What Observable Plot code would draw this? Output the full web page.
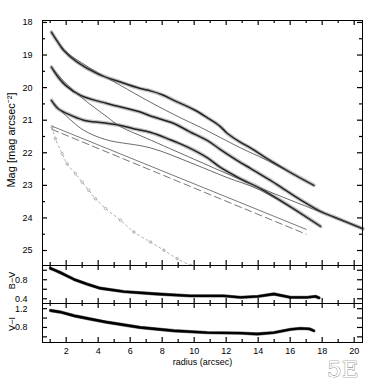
<!DOCTYPE html>
<html><head><meta charset="utf-8">
<script src="https://cdn.jsdelivr.net/npm/d3@7"></script>
<script src="https://cdn.jsdelivr.net/npm/@observablehq/plot@0.6"></script>
<style>
html,body{margin:0;padding:0;background:#fff;}
#wrap{position:relative;width:382px;height:382px;overflow:hidden;background:#fff;}
#wrap svg{position:absolute;left:0;top:0;}
</style></head><body><div id="wrap"></div>
<script>
// ---- data ----
// I band profile (top curve)
const iRadius = [1.08, 1.5, 1.85, 2.69, 3.94, 5.39, 6.64, 7.27, 8.0, 8.73, 10.0, 10.81, 11.6, 12.06, 12.9, 13.52, 14.56, 16.0, 17.48];
const iMag    = [18.30, 18.62, 18.86, 19.22, 19.57, 19.83, 20.03, 20.10, 20.22, 20.39, 20.68, 20.92, 21.18, 21.40, 21.68, 21.85, 22.18, 22.60, 23.00];
// V band profile (middle curve)
const vRadius = [1.08, 1.5, 1.96, 2.9, 4.56, 6.64, 7.27, 8.73, 9.7, 10.81, 11.64, 12.9, 13.52, 14.77, 15.4, 16.5, 17.9, 18.73, 20.54];
const vMag    = [19.37, 19.68, 19.93, 20.24, 20.49, 20.75, 20.87, 21.10, 21.35, 21.62, 21.90, 22.30, 22.48, 22.85, 23.05, 23.40, 23.80, 23.97, 24.33];
// B band profile (third curve)
const bRadius = [1.08, 1.5, 2.06, 3.1, 4.3, 5.4, 6.2, 7.3, 8.4, 9.56, 10.81, 11.64, 12.9, 14.14, 16.0, 17.9];
const bMag    = [20.39, 20.65, 20.80, 21.00, 21.08, 21.16, 21.26, 21.38, 21.58, 21.82, 22.15, 22.45, 22.80, 23.10, 23.65, 24.26];
// model fits (thin solid lines)
const iModelRadius = [1.08, 2.0, 3.0, 4.0, 5.39, 7.27, 9.16, 10.4, 12.9, 14.5, 17.48];
const iModelMag    = [18.30, 18.90, 19.25, 19.55, 19.93, 20.45, 20.93, 21.22, 21.85, 22.22, 23.00];
const vModelRadius = [1.08, 2.0, 3.0, 4.56, 5.4, 7.0, 10.0, 12.27, 13.73, 17.9, 20.54];
const vModelMag    = [19.37, 19.88, 20.32, 20.90, 21.20, 21.55, 22.20, 22.69, 23.00, 23.82, 24.33];
const bModelRadius = [1.08, 1.64, 2.3, 3.1, 4.5, 7.27, 10.0, 12.0, 14.14, 17.9];
const bModelMag    = [20.39, 20.70, 21.00, 21.31, 21.60, 21.85, 22.35, 22.75, 23.15, 24.26];
// disk components (solid + dashed straight lines)
const diskRadius  = [1.1, 17.0];
const diskMag     = [21.18, 24.35];
const diskDashMag = [21.28, 24.50];
// bulge component (dotted curve)
const bulgeRadius = [1.12, 1.33, 1.75, 2.06, 2.58, 3.0, 3.41, 3.83, 4.46, 5.39, 6.23, 7.27, 8.1, 8.94, 9.77];
const bulgeMag    = [21.21, 21.57, 22.03, 22.34, 22.64, 22.90, 23.15, 23.41, 23.71, 24.07, 24.43, 24.74, 24.99, 25.25, 25.46];
// colour profiles
const bvRadius = [1.02, 1.3, 1.64, 2.0, 2.48, 3.31, 4.14, 5.6, 7.69, 9.77, 11.85, 12.9, 14.0, 14.98, 16.02, 17.06, 17.58, 17.8];
const bvColor  = [1.04, 1.00, 0.95, 0.89, 0.81, 0.71, 0.62, 0.55, 0.50, 0.46, 0.46, 0.43, 0.45, 0.50, 0.43, 0.43, 0.45, 0.42];
const viRadius = [1.02, 1.6, 2.48, 3.5, 4.56, 6.64, 8.73, 10.81, 12.9, 13.94, 14.98, 16.02, 16.64, 17.2, 17.48];
const viColor  = [1.16, 1.13, 1.05, 0.98, 0.91, 0.80, 0.73, 0.69, 0.68, 0.66, 0.69, 0.76, 0.78, 0.77, 0.73];
// ticks
const xMajorTicks = [2, 4, 6, 8, 10, 12, 14, 16, 18, 20];
const xMinorTicks = [1, 3, 5, 7, 9, 11, 13, 15, 17, 19];
const magTicks = [18, 19, 20, 21, 22, 23, 24, 25];
const magMinorTicks = [18.5, 19.5, 20.5, 21.5, 22.5, 23.5, 24.5];
const bvLabelTicks = [0.4, 0.8];
const bvAllTicks = [0.4, 0.6, 0.8, 1.0];
const viLabelTicks = [0.8, 1.2];
const viAllTicks = [0.6, 0.8, 1.0, 1.2];

// ---- helpers ----
const zip = (xs, ys) => xs.map((x, i) => ({x, y: ys[i]}));
const FONT = "'Liberation Sans', Arial, sans-serif";
const W = 382, H = 382;
const ML = 42, MR = 20, FW = W - ML - MR;
const xDomain = [0.52, 20.52];
const base = {
  width: W, height: H, marginLeft: ML, marginRight: MR,
  style: {background: "transparent", fontFamily: FONT, fontSize: "9px", overflow: "visible", color: "#000"}
};
// inward tick marks on the four sides of a frame of height fh
function boxTicks(fh, yAll, yMinor) {
  const tx = (t, len) => [
    Plot.tickX(t, {x: d => d, insetTop: fh - len, stroke: "#000", strokeWidth: 1.2}),
    Plot.tickX(t, {x: d => d, insetBottom: fh - len, stroke: "#000", strokeWidth: 1.2})
  ];
  const ty = (t, len) => [
    Plot.tickY(t, {y: d => d, insetRight: FW - len, stroke: "#000", strokeWidth: 1.2}),
    Plot.tickY(t, {y: d => d, insetLeft: FW - len, stroke: "#000", strokeWidth: 1.2})
  ];
  const m = [...tx(xMajorTicks, 5), ...tx(xMinorTicks, 3), ...ty(yAll, 5)];
  if (yMinor) m.push(...ty(yMinor, 3));
  return m;
}
const dataLine = (xs, ys) => [
  Plot.line(zip(xs, ys), {x: "x", y: "y", stroke: "#c4c4c4", strokeWidth: 4, curve: "catmull-rom"}),
  Plot.line(zip(xs, ys), {x: "x", y: "y", stroke: "#222", strokeWidth: 1.5, curve: "catmull-rom"})
];
const modelLine = (xs, ys) => Plot.line(zip(xs, ys), {x: "x", y: "y", stroke: "#444", strokeWidth: 0.8, curve: "catmull-rom"});

const wrap = document.getElementById("wrap");

// ---- main panel ----
const main = Plot.plot({
  ...base, marginTop: 20, marginBottom: H - 265,
  x: {domain: xDomain, axis: null},
  y: {domain: [17.94, 25.46], reverse: true, axis: null},
  marks: [
    ...dataLine(iRadius, iMag),
    ...dataLine(vRadius, vMag),
    ...dataLine(bRadius, bMag),
    modelLine(iModelRadius, iModelMag),
    modelLine(vModelRadius, vModelMag),
    modelLine(bModelRadius, bModelMag),
    Plot.line(zip(diskRadius, diskMag), {x: "x", y: "y", stroke: "#555", strokeWidth: 0.8}),
    Plot.line(zip(diskRadius, diskDashMag), {x: "x", y: "y", stroke: "#666", strokeWidth: 0.9, strokeDasharray: "7,4"}),
    Plot.line(zip(bulgeRadius, bulgeMag), {x: "x", y: "y", stroke: "#999", strokeWidth: 0.8, strokeDasharray: "2,3", curve: "catmull-rom", clip: true}),
    Plot.dot(zip(bulgeRadius, bulgeMag), {x: "x", y: "y", r: 1.3, stroke: "#999", strokeWidth: 0.7, fill: "none", clip: true}),
    ...boxTicks(245, magTicks, magMinorTicks),
    Plot.axisY({ticks: magTicks, anchor: "left", tickSize: 0, tickPadding: 10, label: null, tickFormat: d => String(d)}),
    Plot.text(["Mag [mag arcsec⁻²]"], {frameAnchor: "left", dx: -31, dy: -3, rotate: -90, textAnchor: "middle", fontSize: 11}),
    Plot.frame({stroke: "#000", strokeWidth: 1})
  ]
});

// ---- B-V panel ----
const bv = Plot.plot({
  ...base, marginTop: 265, marginBottom: H - 303,
  x: {domain: xDomain, axis: null},
  y: {domain: [0.3, 1.1], axis: null},
  marks: [
    Plot.line(zip(bvRadius, bvColor), {x: "x", y: "y", stroke: "#777", strokeWidth: 3.4}),
    Plot.line(zip(bvRadius, bvColor), {x: "x", y: "y", stroke: "#000", strokeWidth: 2.4}),
    ...boxTicks(38, bvAllTicks),
    Plot.axisY({ticks: bvLabelTicks, anchor: "left", tickSize: 0, tickPadding: 15, label: null, tickFormat: d3.format(".1f")}),
    Plot.text(["B−V"], {frameAnchor: "left", dx: -30, dy: -4, rotate: -90, textAnchor: "middle", fontSize: 9}),
    Plot.frame({stroke: "#000", strokeWidth: 1})
  ]
});

// ---- V-I panel ----
const vi = Plot.plot({
  ...base, marginTop: 303, marginBottom: H - 342,
  x: {domain: xDomain, axis: null},
  y: {domain: [0.48, 1.31], axis: null},
  marks: [
    Plot.line(zip(viRadius, viColor), {x: "x", y: "y", stroke: "#777", strokeWidth: 3.4}),
    Plot.line(zip(viRadius, viColor), {x: "x", y: "y", stroke: "#000", strokeWidth: 2.4}),
    ...boxTicks(39, viAllTicks),
    Plot.axisY({ticks: viLabelTicks, anchor: "left", tickSize: 0, tickPadding: 15, label: null, tickFormat: d3.format(".1f")}),
    Plot.axisX({ticks: xMajorTicks, anchor: "bottom", tickSize: 0, tickPadding: 5, label: null, tickFormat: d => String(d)}),
    Plot.text(["V−I"], {frameAnchor: "left", dx: -30, dy: 1, rotate: -90, textAnchor: "middle", fontSize: 9}),
    Plot.text(["radius (arcsec)"], {frameAnchor: "bottom", dy: 22, fontSize: 9}),
    Plot.text(["5E"], {frameAnchor: "bottom-right", dx: -4, dy: 27, textAnchor: "end", lineAnchor: "middle", fontSize: 23, fontFamily: "'DejaVu Serif', 'Liberation Serif', serif", fill: "#fff", stroke: "#666", strokeWidth: 0.7}),
    Plot.frame({stroke: "#000", strokeWidth: 1})
  ]
});

wrap.append(main, bv, vi);
</script></body></html>
